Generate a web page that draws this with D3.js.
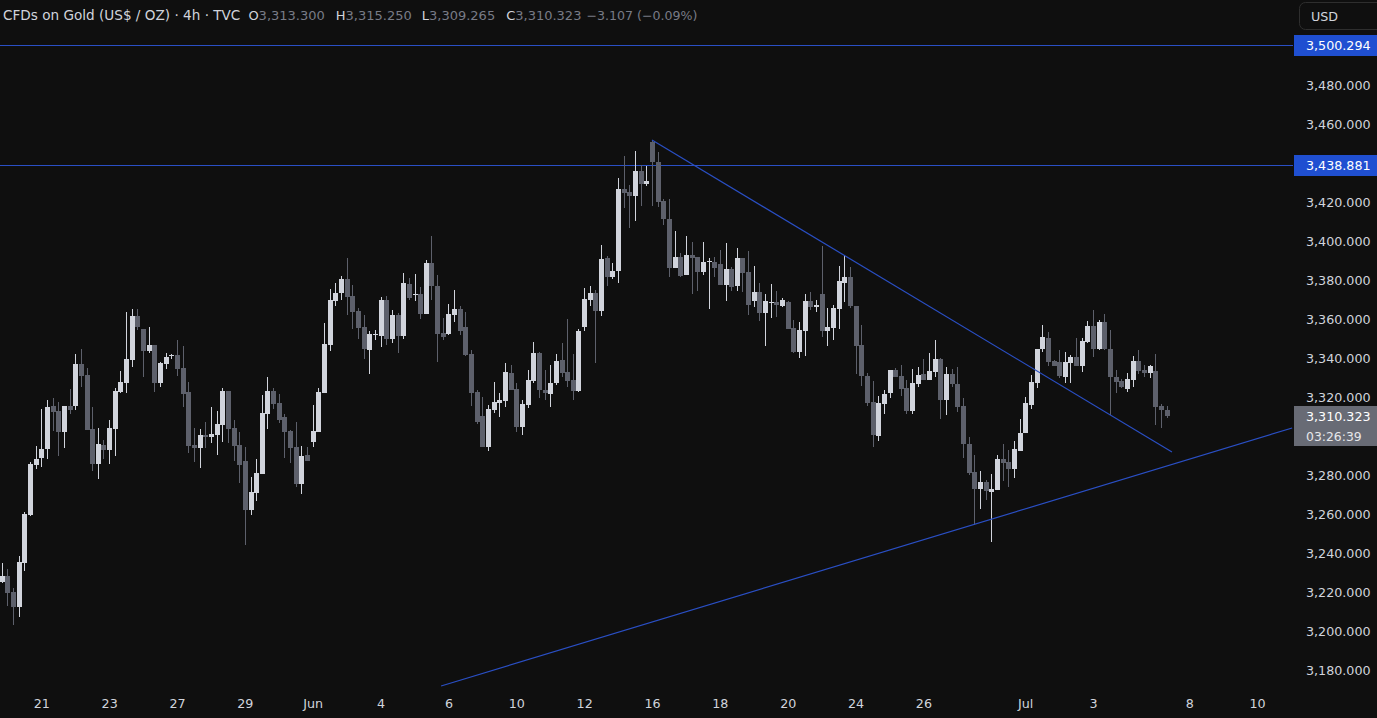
<!DOCTYPE html>
<html><head><meta charset="utf-8">
<script src="https://cdn.jsdelivr.net/npm/d3@7"></script>
<style>
html,body{margin:0;padding:0;background:#0f0f0f;overflow:hidden;}
svg{display:block;}
text{font-family:"DejaVu Sans",Verdana,sans-serif;}
</style></head>
<body>
<script>
// ---- DATA ----
const openP = [3225.1,3228.2,3220.0,3212.5,3235.0,3259.3,3285.0,3288.9,3293.3,3315.4,3312.8,3302.2,3315.4,3315.4,3336.9,3331.3,3303.6,3285.6,3295.4,3292.8,
3303.6,3322.6,3327.3,3339.0,3361.7,3355.1,3343.7,3346.7,3327.3,3337.0,3340.9,3341.5,3335.0,3322.6,3295.4,3294.0,3300.5,3299.3,3300.5,3305.6,
3323.1,3304.1,3295.4,3287.2,3262.1,3270.8,3280.5,3311.4,3323.1,3317.1,3309.5,3302.6,3294.5,3275.4,3290.3,3296.9,3302.3,3322.2,3346.7,3369.4,
3373.2,3380.5,3372.0,3364.1,3355.9,3344.1,3352.1,3351.5,3369.7,3349.7,3362.0,3351.3,3377.9,3372.7,3372.8,3362.6,3388.9,3377.0,3352.7,3352.3,
3362.0,3365.1,3356.0,3342.0,3322.6,3310.3,3294.5,3313.3,3317.1,3318.1,3332.1,3324.1,3304.8,3315.9,3328.2,3342.7,3323.6,3321.5,3327.0,3339.0,
3333.0,3328.7,3323.2,3356.0,3369.9,3373.5,3364.3,3391.5,3381.3,3384.8,3426.7,3425.3,3423.2,3435.9,3429.1,3450.6,3440.4,3420.5,3411.5,3386.3,
3392.0,3382.6,3392.8,3392.0,3384.3,3389.5,3389.1,3388.2,3377.4,3385.6,3377.0,3391.5,3383.9,3369.0,3374.1,3363.3,3368.7,3368.9,3366.7,3368.9,
3355.6,3343.3,3354.0,3369.2,3365.9,3372.8,3354.0,3355.6,3365.1,3378.6,3381.7,3366.8,3346.7,3331.0,3317.4,3300.0,3316.4,3321.9,3333.8,3330.8,
3324.5,3312.8,3326.6,3331.6,3328.7,3333.0,3339.5,3318.5,3331.6,3326.7,3315.4,3295.9,3281.4,3272.8,3276.3,3271.4,3272.3,3288.2,3286.8,3283.1,
3292.3,3301.4,3315.9,3327.3,3344.4,3350.5,3338.5,3338.2,3330.4,3337.6,3340.4,3336.1,3348.0,3356.4,3344.6,3358.3,3344.6,3330.4,3328.2,3324.0,
3328.7,3338.5,3333.8,3332.4,3333.5,3315.4,3313.300];
const highP = [3234.9,3231.8,3222.2,3238.5,3261.0,3286.8,3294.9,3313.8,3318.5,3319.3,3317.4,3315.4,3324.1,3342.0,3344.6,3334.7,3314.9,3304.1,3297.9,3308.2,
3324.6,3333.3,3363.7,3365.1,3365.1,3355.1,3356.0,3346.7,3338.1,3342.4,3342.0,3349.2,3346.2,3327.7,3304.0,3303.4,3307.0,3314.7,3313.0,3324.5,
3323.1,3308.2,3302.2,3294.2,3279.1,3288.2,3321.0,3330.4,3324.5,3321.5,3311.1,3303.1,3307.0,3294.9,3294.5,3315.9,3324.5,3357.8,3375.2,3378.3,
3382.0,3391.1,3377.4,3365.8,3362.0,3353.8,3354.4,3371.4,3371.8,3364.6,3362.9,3383.7,3380.9,3383.1,3376.3,3390.3,3402.6,3382.6,3360.4,3367.7,
3374.9,3366.7,3363.7,3344.1,3323.6,3320.2,3315.9,3327.8,3321.9,3337.3,3336.4,3327.0,3318.5,3333.8,3348.0,3343.2,3333.8,3336.4,3342.0,3347.8,
3360.0,3342.0,3354.9,3375.7,3376.9,3374.9,3397.9,3392.3,3388.5,3432.2,3443.6,3428.7,3446.3,3439.0,3438.5,3451.8,3445.5,3421.5,3421.5,3405.1,
3393.7,3402.6,3399.6,3392.0,3399.6,3391.1,3391.7,3395.4,3398.8,3386.8,3396.2,3391.5,3395.0,3387.2,3378.6,3372.8,3377.9,3374.5,3370.6,3369.4,
3359.5,3358.6,3372.8,3374.1,3370.0,3397.4,3365.6,3367.2,3387.2,3392.8,3386.5,3366.8,3356.9,3332.2,3328.2,3320.7,3323.6,3333.8,3334.7,3336.4,
3328.7,3334.2,3335.6,3339.5,3342.4,3349.2,3339.8,3335.6,3334.2,3335.6,3319.6,3299.3,3290.3,3282.1,3277.4,3280.5,3290.3,3295.9,3292.8,3297.6,
3308.7,3320.2,3331.3,3344.6,3356.9,3353.2,3339.0,3344.1,3343.0,3341.5,3350.1,3350.1,3359.1,3364.6,3359.5,3362.4,3354.4,3333.8,3329.1,3332.2,
3341.2,3344.1,3336.4,3336.4,3342.0,3316.4,3315.250];
const lowP = [3224.6,3212.8,3203.1,3207.2,3231.0,3259.0,3283.2,3284.3,3288.4,3302.7,3289.9,3294.0,3311.3,3313.3,3325.3,3303.1,3282.2,3278.1,3288.2,3285.6,
3289.7,3322.0,3322.2,3335.6,3354.4,3330.4,3342.4,3322.8,3325.3,3334.4,3339.7,3331.0,3315.0,3291.5,3286.9,3283.8,3294.0,3296.3,3290.3,3297.1,
3296.6,3287.4,3275.8,3244.1,3259.5,3266.8,3280.5,3303.6,3313.8,3306.8,3288.6,3286.3,3273.7,3270.3,3287.3,3294.5,3302.2,3322.2,3343.8,3366.8,
3369.7,3362.1,3354.9,3349.7,3339.7,3331.8,3349.2,3345.4,3346.7,3347.5,3342.8,3349.6,3369.7,3369.4,3360.0,3362.6,3369.7,3338.1,3349.2,3351.8,
3358.6,3351.8,3341.0,3315.4,3306.2,3294.2,3292.5,3311.6,3310.0,3314.9,3323.6,3301.8,3300.5,3314.5,3327.0,3319.3,3318.5,3314.7,3326.2,3330.4,
3325.0,3318.5,3322.8,3354.0,3366.7,3337.6,3361.7,3376.9,3380.5,3378.7,3417.1,3406.8,3410.4,3418.2,3428.0,3418.2,3417.4,3408.2,3381.7,3386.3,
3381.7,3382.6,3372.7,3374.4,3382.6,3365.1,3381.4,3377.4,3369.4,3374.6,3374.6,3374.1,3362.1,3366.3,3359.1,3346.2,3360.4,3360.9,3366.0,3354.9,
3342.4,3339.9,3341.0,3364.6,3363.8,3351.0,3345.9,3349.2,3354.9,3368.9,3365.8,3331.8,3325.6,3315.2,3294.5,3297.4,3311.3,3319.6,3330.4,3320.7,
3311.1,3311.1,3325.3,3328.7,3328.7,3330.1,3308.7,3310.8,3325.3,3312.5,3288.6,3280.0,3254.4,3262.6,3267.2,3245.8,3272.3,3276.7,3273.6,3278.3,
3292.3,3301.4,3313.7,3324.4,3343.3,3336.1,3336.1,3330.0,3327.0,3327.0,3336.1,3333.0,3347.5,3340.7,3344.1,3344.1,3310.8,3322.2,3324.8,3322.8,
3325.0,3331.6,3330.4,3330.0,3305.6,3304.1,3309.265];
const closeP = [3228.2,3219.6,3212.5,3235.4,3260.0,3285.6,3288.2,3293.3,3314.9,3312.3,3302.2,3315.4,3313.3,3336.9,3330.8,3303.1,3285.6,3295.9,3292.8,3304.1,
3323.1,3327.7,3339.5,3361.7,3355.9,3343.7,3346.7,3327.3,3337.6,3340.5,3341.3,3334.4,3321.5,3294.9,3294.0,3300.5,3299.3,3301.0,3306.2,3323.1,
3303.6,3295.0,3285.1,3262.1,3271.1,3281.2,3311.9,3323.1,3316.4,3308.2,3302.2,3294.1,3275.4,3289.7,3287.3,3302.6,3322.4,3347.2,3369.7,3373.2,
3380.5,3371.5,3363.8,3355.6,3344.4,3352.1,3352.3,3369.7,3349.7,3362.0,3351.3,3378.6,3370.6,3372.9,3362.6,3388.9,3377.0,3352.3,3351.0,3362.6,
3365.1,3354.0,3341.5,3322.2,3307.3,3294.5,3313.7,3317.3,3318.5,3332.7,3323.6,3304.8,3316.4,3328.7,3342.7,3323.6,3322.2,3327.3,3338.5,3332.1,
3328.4,3323.2,3354.0,3370.3,3373.5,3364.3,3390.8,3381.4,3384.6,3426.7,3424.8,3423.2,3435.9,3429.1,3430.8,3440.4,3420.2,3411.1,3386.3,3391.7,
3382.2,3392.8,3391.5,3384.3,3389.2,3389.9,3386.3,3377.4,3385.6,3376.6,3391.5,3383.7,3367.2,3374.1,3363.3,3369.4,3368.9,3367.2,3369.7,3354.9,
3343.3,3354.4,3369.2,3366.0,3367.2,3354.0,3355.8,3365.6,3379.5,3381.7,3366.8,3346.2,3330.8,3317.1,3300.5,3317.1,3321.5,3333.8,3330.4,3324.1,
3312.8,3327.0,3331.3,3328.7,3333.3,3339.5,3318.5,3331.8,3326.5,3315.1,3295.9,3280.9,3272.8,3276.3,3271.8,3272.8,3288.2,3286.3,3283.1,3293.3,
3301.7,3317.1,3327.9,3344.6,3350.6,3338.2,3336.1,3330.8,3338.2,3340.7,3336.1,3348.7,3356.4,3344.6,3358.3,3344.6,3330.4,3327.9,3325.0,3329.1,
3338.7,3333.3,3332.1,3335.9,3315.1,3313.430,3310.323];

const xTickIndex  = [7,19,31,43,55,67,79,91,103,115,127,139,151,163,181,193,210,222];
const xTickLabels = ["21","23","27","29","Jun","4","6","10","12","16","18","20","24","26","Jul","3","8","10"];
const priceTicks  = [3180,3200,3220,3240,3260,3280,3300,3320,3340,3360,3380,3400,3420,3440,3460,3480,3500];
const levelPrices = [3500.294, 3438.881];
// trendlines as [barIndex, price] anchor pairs
const trendFalling = [[115, 3451.8], [206.95, 3291.8]];
const trendRising  = [[77.7, 3171.8], [228.2, 3304.1]];
const countdown = "03:26:39";
const symbolTitle = "CFDs on Gold (US$ / OZ) · 4h · TVC";
const currency = "USD";

// ---- LAYOUT ----
const W = 1377, Hgt = 718;
const plotR = 1293, plotB = 688;
const UP = "#d1d4dc", DOWN = "#5d606b", LINE = "#2a4fc4", LABELBG = "#1f4fd1";

const svg = d3.select("body").append("svg").attr("width", W).attr("height", Hgt);
svg.append("rect").attr("width", W).attr("height", Hgt).attr("fill", "#0f0f0f");

const n = openP.length;
const x = d3.scaleLinear().domain([0, n - 1]).range([1.7, 1166.6]);
const y = d3.scaleLinear().domain([3180, 3460]).range([670, 124]);

svg.append("clipPath").attr("id", "plot").append("rect")
  .attr("x", 0).attr("y", 0).attr("width", plotR).attr("height", plotB);
const g = svg.append("g").attr("clip-path", "url(#plot)");

// horizontal levels
g.selectAll("line.level").data(levelPrices).join("line").attr("class", "level")
  .attr("x1", 0).attr("x2", plotR)
  .attr("y1", d => Math.round(y(d)) + 0.5).attr("y2", d => Math.round(y(d)) + 0.5)
  .attr("stroke", LINE).attr("stroke-width", 1);

// candles
const bars = d3.range(n).map(i => ({i, o: openP[i], h: highP[i], l: lowP[i], c: closeP[i]}));
const cg = g.append("g");
cg.selectAll("rect.wick").data(bars).join("rect").attr("class", "wick")
  .attr("x", d => Math.round(x(d.i)) )
  .attr("width", 1)
  .attr("y", d => Math.round(y(d.h)))
  .attr("height", d => Math.max(1, Math.round(y(d.l)) - Math.round(y(d.h))))
  .attr("fill", d => d.c >= d.o ? UP : DOWN);
cg.selectAll("rect.body").data(bars).join("rect").attr("class", "body")
  .attr("x", d => Math.round(x(d.i)) - 2)
  .attr("width", 5)
  .attr("y", d => Math.round(y(Math.max(d.o, d.c))))
  .attr("height", d => Math.max(1, Math.round(y(Math.min(d.o, d.c))) - Math.round(y(Math.max(d.o, d.c)))))
  .attr("fill", d => d.c >= d.o ? UP : DOWN);

// trendlines
const lineGen = d3.line().x(d => x(d[0])).y(d => y(d[1]));
[trendFalling, trendRising].forEach(t => {
  g.append("path").attr("d", lineGen(t)).attr("fill", "none")
    .attr("stroke", LINE).attr("stroke-width", 1.2);
});

// ---- X AXIS ----
const xAxis = d3.axisBottom(x).tickValues(xTickIndex)
  .tickFormat((d, k) => xTickLabels[k]).tickSize(0).tickPadding(0);
const xa = svg.append("g").attr("transform", `translate(0,${plotB})`).call(xAxis);
xa.select(".domain").remove();
xa.selectAll("text").attr("fill", "#d1d4dc").attr("font-size", "12.7px")
  .attr("font-family", "'DejaVu Sans',Verdana,sans-serif")
  .attr("dy", null).attr("y", 15).attr("dominant-baseline", "central");

// ---- Y AXIS ----
const fmt = d3.format(",.3f");
const last = closeP[n - 1];
// price labels (levels + last) hide the regular ticks they cover
const covered = [...levelPrices.map(p => [y(p) - 11, y(p) + 11]), [y(last) - 11, y(last) + 31]];
const shownTicks = priceTicks.filter(p => !covered.some(([a, b]) => y(p) > a && y(p) < b));
const yAxis = d3.axisRight(y).tickValues(shownTicks).tickFormat(fmt).tickSize(0).tickPadding(0);
const ya = svg.append("g").attr("transform", `translate(1306,0)`).call(yAxis);
ya.select(".domain").remove();
ya.selectAll("text").attr("fill", "#d1d4dc").attr("font-size", "12.7px")
  .attr("font-family", "'DejaVu Sans',Verdana,sans-serif")
  .attr("dy", null).attr("x", 0).attr("dominant-baseline", "central");

// level labels
levelPrices.forEach(p => {
  const yy = Math.round(y(p));
  svg.append("rect").attr("x", 1294).attr("y", yy - 10).attr("width", 83).attr("height", 21)
    .attr("fill", LABELBG);
  svg.append("text").attr("x", 1306).attr("y", yy + 0.5).attr("dominant-baseline", "central")
    .attr("fill", "#ffffff").attr("font-size", "12.7px").text(fmt(p));
});

// last price label
const ly = y(last);
svg.append("rect").attr("x", 1294).attr("y", Math.round(ly) - 10).attr("width", 83).attr("height", 40)
  .attr("fill", "#686b75");
svg.append("text").attr("x", 1306).attr("y", ly + 1).attr("dominant-baseline", "central")
  .attr("fill", "#ffffff").attr("font-size", "12.7px").text(fmt(last));
svg.append("text").attr("x", 1306).attr("y", ly + 20.5).attr("dominant-baseline", "central")
  .attr("fill", "#e6e7ea").attr("font-size", "12.4px").text(countdown);

// currency button
svg.append("rect").attr("x", 1299.5).attr("y", 2.5).attr("width", 90).attr("height", 27).attr("rx", 6)
  .attr("fill", "#0f0f0f").attr("stroke", "#2e2e2e");
svg.append("text").attr("x", 1311).attr("y", 16).attr("dominant-baseline", "central")
  .attr("fill", "#d1d4dc").attr("font-size", "12.7px").text(currency);

// ---- HEADER LEGEND ----
const chg = closeP[n - 1] - closeP[n - 2];
const pct = chg / closeP[n - 2];
const fmtChg = d3.format("+.3f"), fmtPct = d3.format("+.2%");
const sgn = s => s.replace("-", "−");
const pieces = [
  {t: symbolTitle, c: "#d1d4dc", gap: 8, fs: 13.6},
  {t: "O", c: "#d1d4dc", gap: 0}, {t: fmt(openP[n - 1]), c: "#787b86", gap: 11},
  {t: "H", c: "#d1d4dc", gap: 0}, {t: fmt(highP[n - 1]), c: "#787b86", gap: 10},
  {t: "L", c: "#d1d4dc", gap: 0}, {t: fmt(lowP[n - 1]), c: "#787b86", gap: 11},
  {t: "C", c: "#d1d4dc", gap: 0}, {t: fmt(closeP[n - 1]), c: "#787b86", gap: 5},
  {t: `${sgn(fmtChg(chg))} (${sgn(fmtPct(pct))})`, c: "#787b86", gap: 0, fs: 12.6}
];
let hx = 3;
pieces.forEach(p => {
  const t = svg.append("text").attr("x", hx).attr("y", 15).attr("dominant-baseline", "central")
    .attr("fill", p.c).attr("font-size", (p.fs || 13) + "px").text(p.t);
  hx += t.node().getComputedTextLength() + p.gap;
});
</script>
</body></html>
